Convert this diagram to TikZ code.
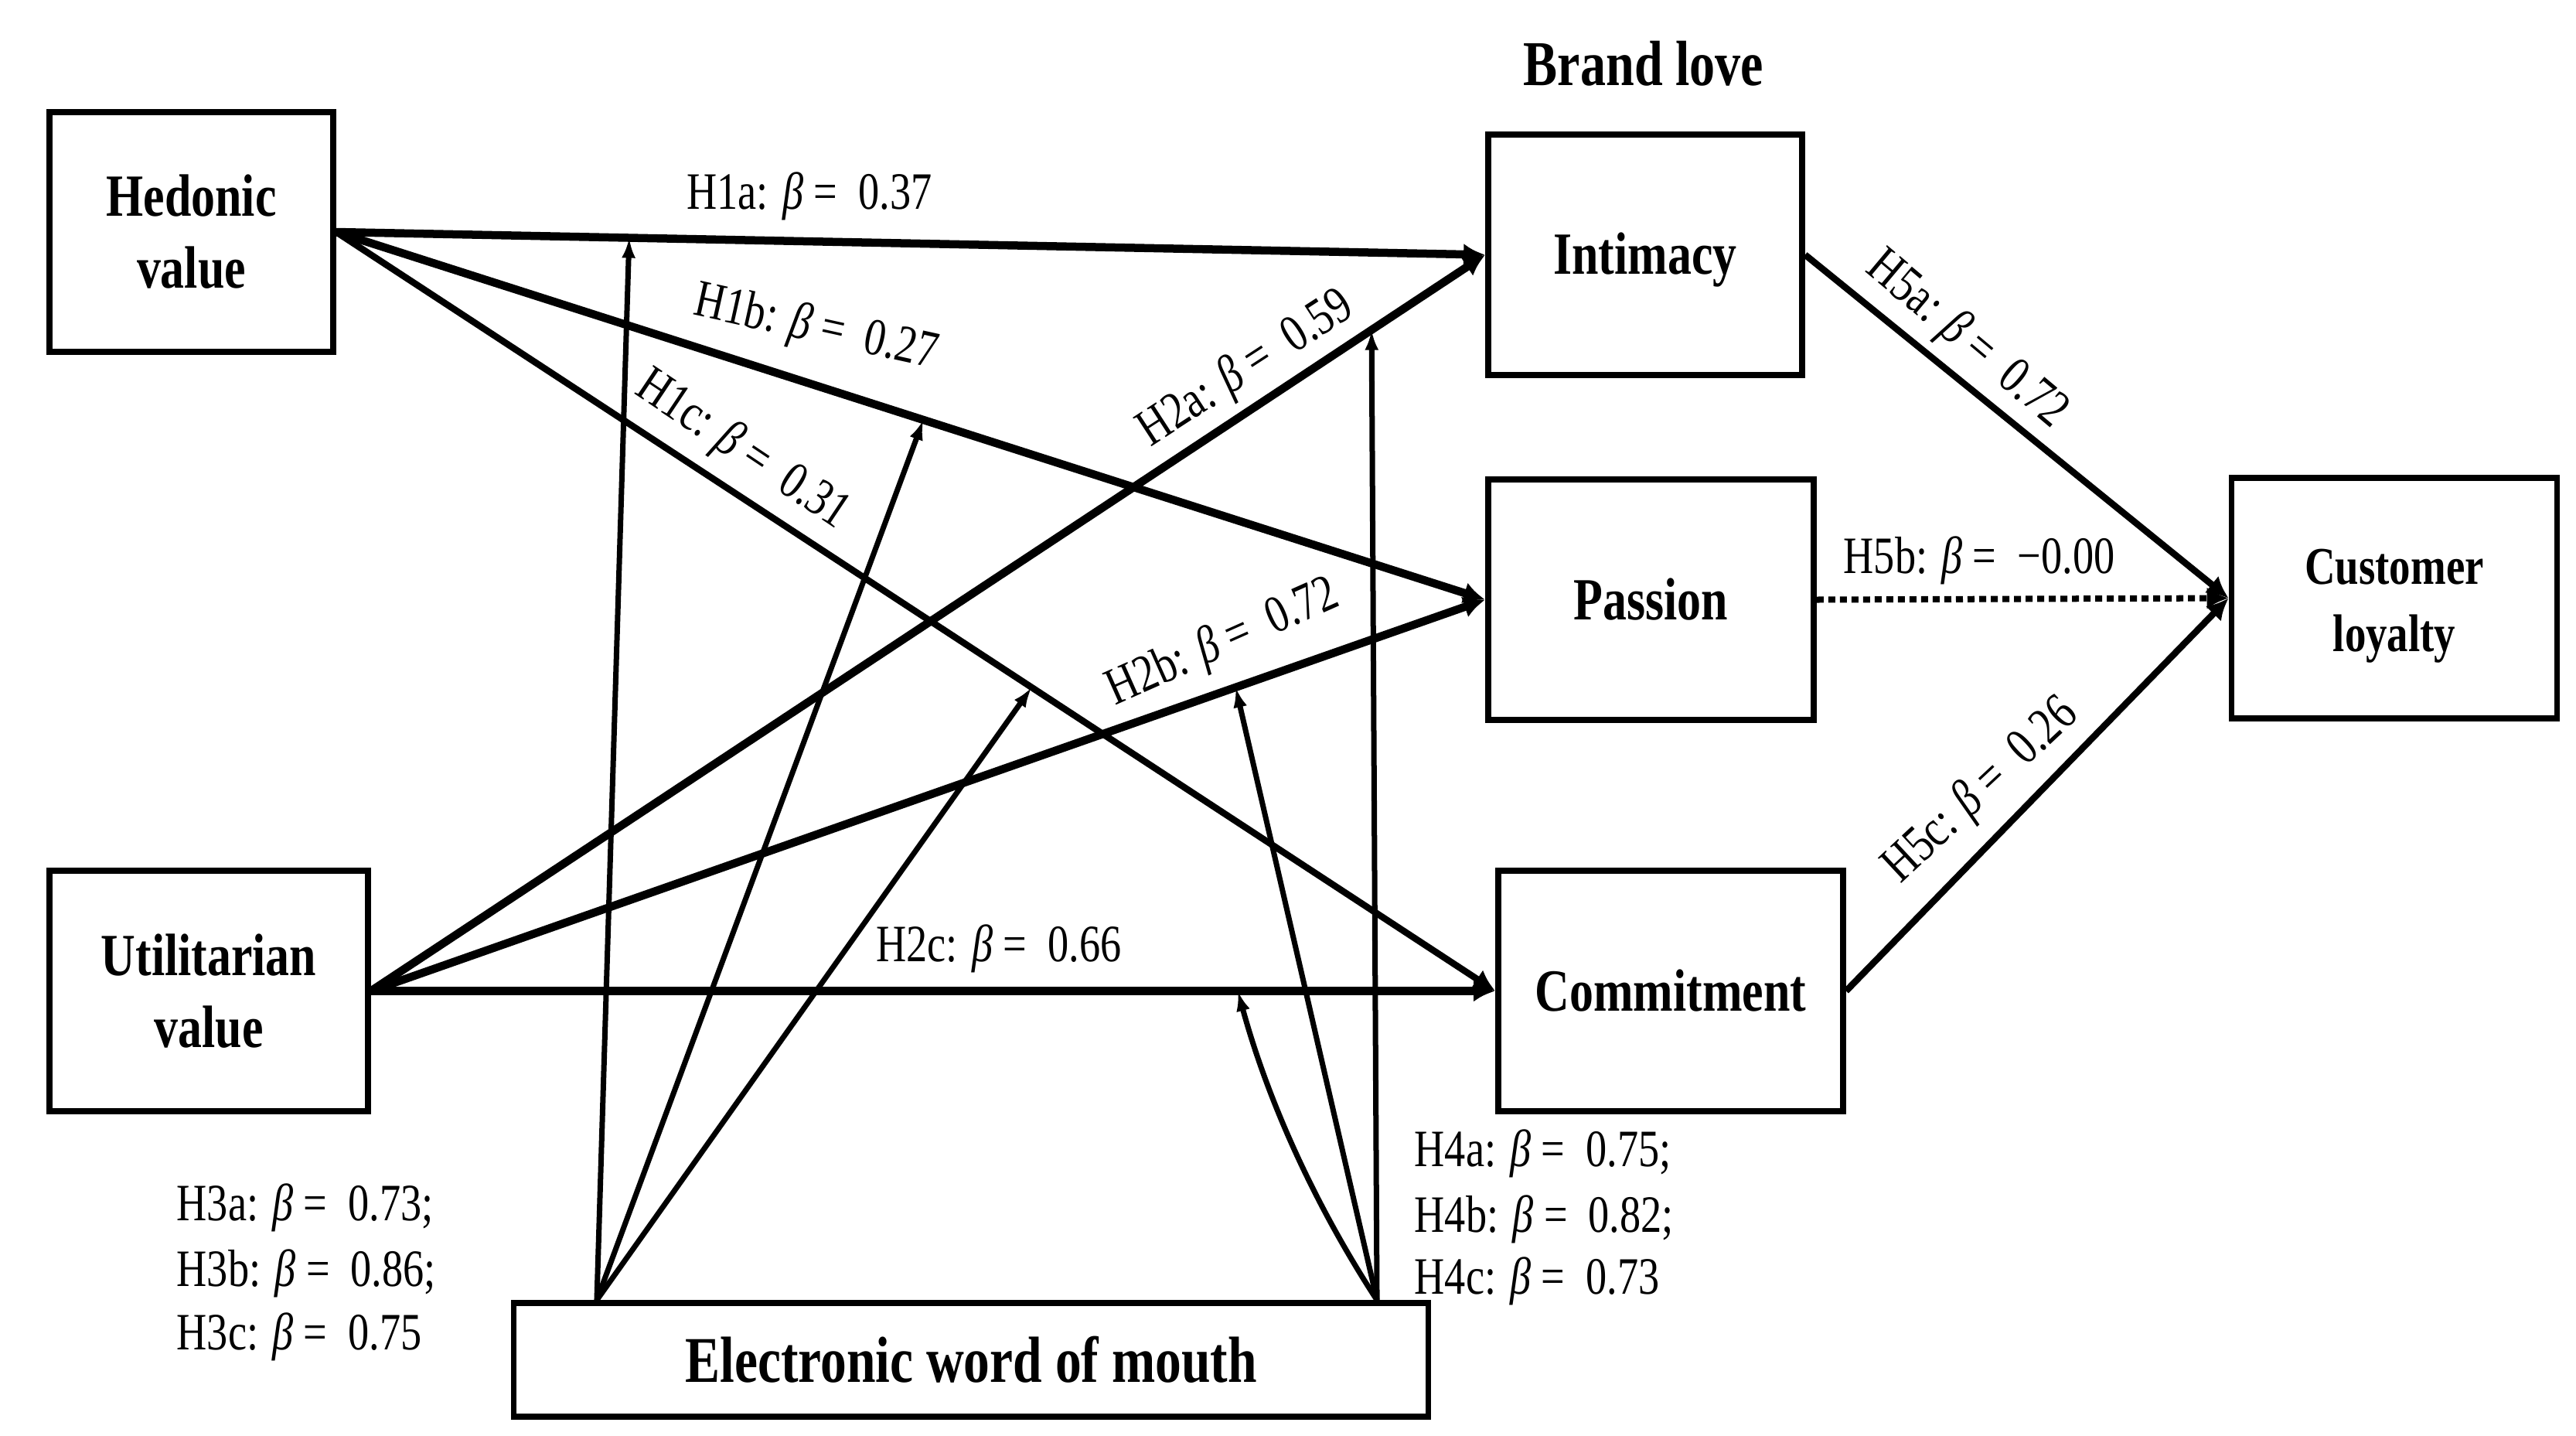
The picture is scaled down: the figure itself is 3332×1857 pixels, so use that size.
\documentclass[tikz,border=0pt]{standalone}
\usepackage{fontspec}
\setmainfont{Liberation Serif}[FakeStretch=0.8]
\usetikzlibrary{arrows.meta,calc}
\newcommand\bxfont{\bfseries\fontsize{22}{26.5}\selectfont}
\newcommand\clfont{\bfseries\fontsize{19.5}{24.7}\selectfont}
\newcommand\ewfont{\bfseries\fontsize{24}{28}\selectfont}
\newcommand\blfont{\bfseries\fontsize{23.5}{28}\selectfont}
\newcommand\lbfont{\fontsize{19.3}{23.5}\selectfont}
\newcommand\bt{\textit{β}}
\tikzset{
  box/.style={draw, line width=0.075cm, fill=white, inner sep=0pt, align=center, font=\bxfont},
  lbl/.style={inner sep=0pt, font=\lbfont},
  main/.style={line width=0.105cm, -{Latex[length=0.28cm,width=0.28cm]}},
  med/.style={line width=0.085cm, -{Latex[length=0.28cm,width=0.28cm]}},
  dotl/.style={line width=0.08cm, dash pattern=on 0.09cm off 0.06cm, -{Latex[length=0.28cm,width=0.28cm]}},
  ewar/.style={line width=0.07cm, -{Latex[length=0.26cm,width=0.18cm]}}
}
\begin{document}
\begin{tikzpicture}[x=0.01cm,y=-0.01cm]
\useasboundingbox[fill=white] (0,0) rectangle (3332,1857);

% boxes
\node[box, minimum width=3.67cm, minimum height=3.10cm] (hed) at (247.5,300) {Hedonic\\value};
\node[box, minimum width=4.12cm, minimum height=3.11cm] (uti) at (270,1281.5) {Utilitarian\\value};
\node[box, minimum width=4.06cm, minimum height=3.11cm] (int) at (2128,329.5) {\raisebox{-0.06cm}[\height][\depth]{Intimacy}};
\node[box, minimum width=4.21cm, minimum height=3.11cm] (pas) at (2135.5,775.5) {Passion};
\node[box, minimum width=4.46cm, minimum height=3.11cm] (com) at (2161,1281.5) {Commitment};
\node[box, minimum width=4.21cm, minimum height=3.11cm, font=\clfont] (cl) at (3097,773.5) {\raisebox{-0.1cm}[\height][\depth]{\parbox{4cm}{\centering Customer\\loyalty}}};
\node[box, minimum width=11.82cm, minimum height=1.47cm, font=\ewfont] (ew) at (1256,1758.5) {Electronic word of mouth};
\node[inner sep=0pt, font=\blfont] (bl) at (2126,82) {Brand love};

% main paths
\draw[main] (hed.east) -- coordinate[pos=0.255] (t1a) (int.west);
\draw[main] (hed.east) -- coordinate[pos=0.511] (t1b) (pas.west);
\draw[med]  (hed.east) -- coordinate[pos=0.600] (t1c) (com.west);
\draw[main] (uti.east) -- coordinate[pos=0.898] (t2a) (int.west);
\draw[main] (uti.east) -- coordinate[pos=0.776] (t2b) (pas.west);
\draw[main] (uti.east) -- coordinate[pos=0.771] (t2c) (com.west);
\draw[med]  (int.east) -- (cl.west);
\draw[dotl] (pas.east) -- (cl.west);
\draw[med]  (com.east) -- (cl.west);

% EWOM moderating arrows
\coordinate (eL) at ([xshift=1.11cm]ew.north west);
\coordinate (eR) at ([xshift=-0.70cm]ew.north east);
\draw[ewar] (eL) -- (t1a);
\draw[ewar] (eL) -- (t1b);
\draw[ewar] (eL) -- (t1c);
\draw[ewar] (eR) -- (t2a);
\draw[ewar] (eR) -- (t2b);
\draw[ewar] (eR) .. controls ($(eR)!0.333!(t2c)+(-21,9)$) and ($(eR)!0.667!(t2c)+(-21,9)$) .. (t2c);

% labels
\node[lbl] (l1a) at (1047,254) {H1a: \bt\ =\ \ 0.37};
\node[lbl, rotate=-12.5] (l1b) at (1055,425) {H1b: \bt\ =\ \ 0.27};
\node[lbl, rotate=-33.8] (l1c) at (960,583) {H1c: \bt\ =\ \ 0.31};
\node[lbl, rotate=33] (l2a) at (1612,478) {H2a: \bt\ =\ \ 0.59};
\node[lbl, rotate=24] (l2b) at (1582,832) {H2b: \bt\ =\ \ 0.72};
\node[lbl] (l2c) at (1292,1227) {H2c: \bt\ =\ \ 0.66};
\node[lbl, rotate=-40] (l5a) at (2544,440) {H5a: \bt\ =\ \ 0.72};
\node[lbl] (l5b) at (2560,725) {H5b: \bt\ =\ \ −0.00};
\node[lbl, rotate=43] (l5c) at (2563,1023) {H5c: \bt\ =\ \ 0.26};

\node[lbl, anchor=base west] (l3a) at (228,1578) {H3a: \bt\ =\ \ 0.73;};
\node[lbl, anchor=base west] (l3b) at (228,1663) {H3b: \bt\ =\ \ 0.86;};
\node[lbl, anchor=base west] (l3c) at (228,1745) {H3c: \bt\ =\ \ 0.75};
\node[lbl, anchor=base west] (l4a) at (1829,1508) {H4a: \bt\ =\ \ 0.75;};
\node[lbl, anchor=base west] (l4b) at (1829,1593) {H4b: \bt\ =\ \ 0.82;};
\node[lbl, anchor=base west] (l4c) at (1829,1673) {H4c: \bt\ =\ \ 0.73};
\end{tikzpicture}
\end{document}
